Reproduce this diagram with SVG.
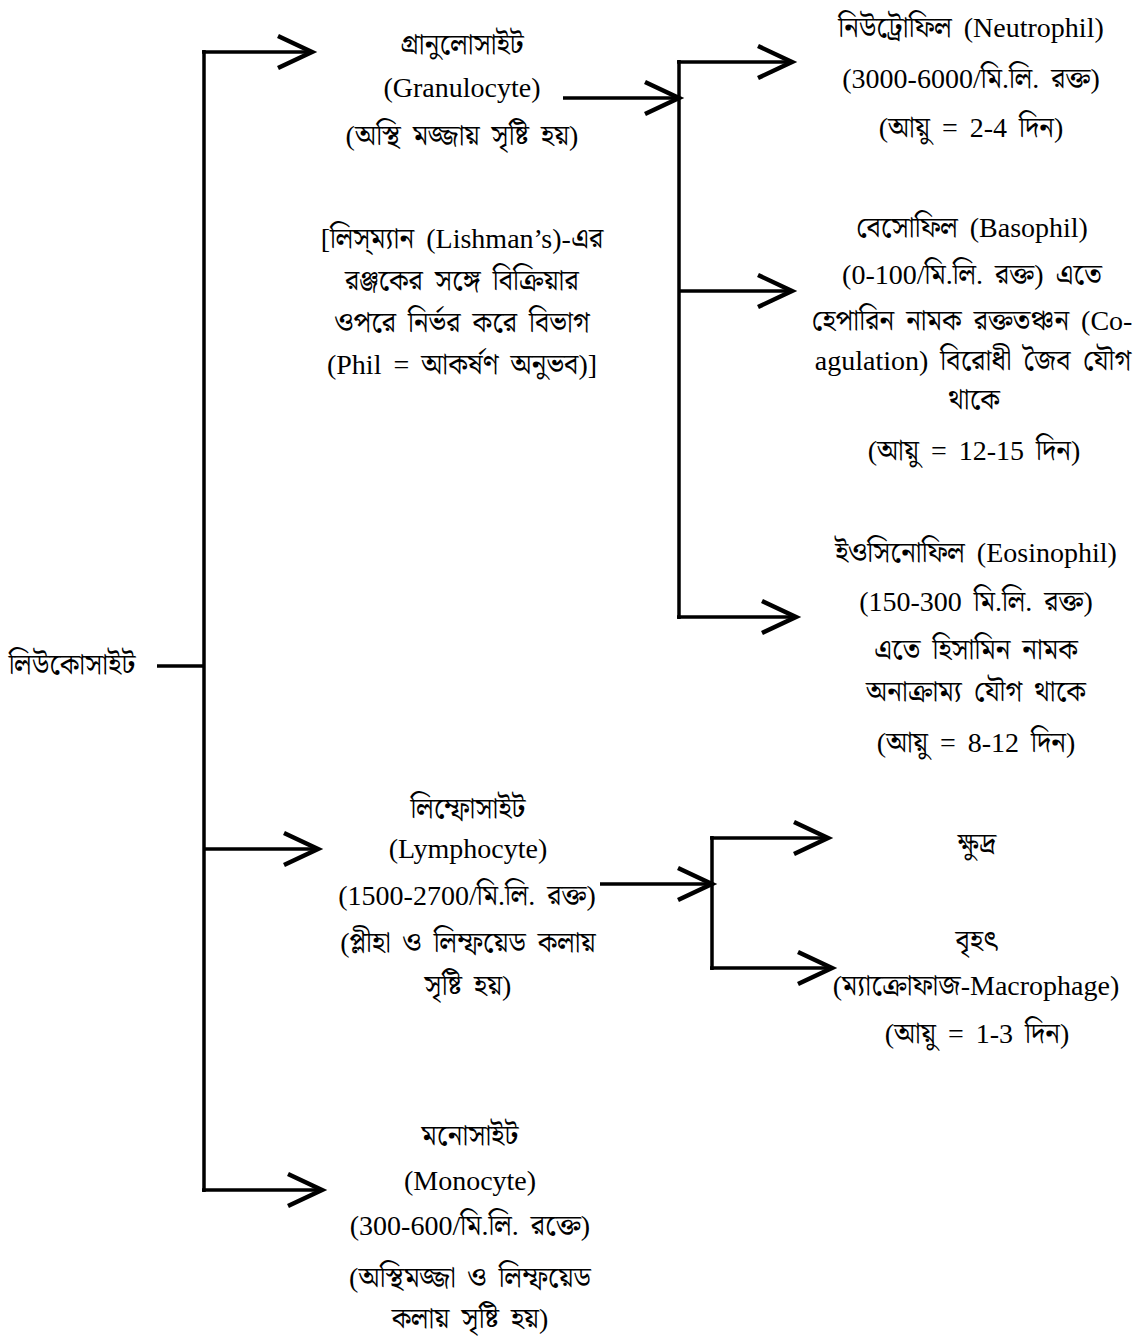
<svg xmlns="http://www.w3.org/2000/svg" width="1142" height="1336" viewBox="0 0 1142 1336">
<style>
text{font-family:"Liberation Serif","Noto Serif Bengali","Noto Sans Bengali","Lohit Bengali",serif;font-size:28px;word-spacing:5px;fill:#000;text-anchor:middle}
.c{stroke:#000;stroke-width:3.5;fill:none}
</style>
<defs>
<marker id="chev" viewBox="-40 -22 50 44" refX="0" refY="0" markerWidth="50" markerHeight="44" markerUnits="userSpaceOnUse" orient="auto">
<path d="M-34,-16 L0,0 L-34,16" fill="none" stroke="#000" stroke-width="4.5"/>
</marker>
</defs>
<rect width="1142" height="1336" fill="#fff"/>
<g id="connectors">
<line class="c" x1="157" y1="666" x2="204" y2="666"/>
<line class="c" x1="204" y1="50" x2="204" y2="1192"/>
<line class="c" x1="202" y1="52" x2="312" y2="52" marker-end="url(#chev)"/>
<line class="c" x1="204" y1="849" x2="318" y2="849" marker-end="url(#chev)"/>
<line class="c" x1="202" y1="1190" x2="322" y2="1190" marker-end="url(#chev)"/>
<line class="c" x1="563" y1="98" x2="679" y2="98" marker-end="url(#chev)"/>
<line class="c" x1="679" y1="60" x2="679" y2="619"/>
<line class="c" x1="677" y1="62" x2="792" y2="62" marker-end="url(#chev)"/>
<line class="c" x1="679" y1="291" x2="792" y2="291" marker-end="url(#chev)"/>
<line class="c" x1="677" y1="617" x2="796" y2="617" marker-end="url(#chev)"/>
<line class="c" x1="600" y1="884" x2="712" y2="884" marker-end="url(#chev)"/>
<line class="c" x1="712" y1="836" x2="712" y2="970"/>
<line class="c" x1="710" y1="838" x2="828" y2="838" marker-end="url(#chev)"/>
<line class="c" x1="710" y1="968" x2="832" y2="968" marker-end="url(#chev)"/>
</g>
<g id="leucocyte">
<text x="72" y="674">লিউকোসাইট</text>
</g>
<g id="granulocyte">
<text x="462" y="54">গ্রানুলোসাইট</text>
<text x="462" y="97">(Granulocyte)</text>
<text x="462" y="145">(অস্থি মজ্জায় সৃষ্টি হয়)</text>
</g>
<g id="lishman">
<text x="462" y="248">[লিস্‌ম্যান (Lishman’s)-এর</text>
<text x="462" y="290">রঞ্জকের সঙ্গে বিক্রিয়ার</text>
<text x="462" y="332">ওপরে নির্ভর করে বিভাগ</text>
<text x="462" y="374">(Phil = আকর্ষণ অনুভব)]</text>
</g>
<g id="neutrophil">
<text x="971" y="37">নিউট্রোফিল (Neutrophil)</text>
<text x="971" y="88">(3000-6000/মি.লি. রক্ত)</text>
<text x="971" y="137">(আয়ু = 2-4 দিন)</text>
</g>
<g id="basophil">
<text x="972" y="237">বেসোফিল (Basophil)</text>
<text x="972" y="284">(0-100/মি.লি. রক্ত) এতে</text>
<text x="972" y="330">হেপারিন নামক রক্ততঞ্চন (Co-</text>
<text x="973" y="370">agulation) বিরোধী জৈব যৌগ</text>
<text x="974" y="409">থাকে</text>
<text x="974" y="460">(আয়ু = 12-15 দিন)</text>
</g>
<g id="eosinophil">
<text x="976" y="562">ইওসিনোফিল (Eosinophil)</text>
<text x="976" y="611">(150-300 মি.লি. রক্ত)</text>
<text x="976" y="659">এতে হিসামিন নামক</text>
<text x="976" y="701">অনাক্রাম্য যৌগ থাকে</text>
<text x="976" y="752">(আয়ু = 8-12 দিন)</text>
</g>
<g id="lymphocyte">
<text x="468" y="818">লিম্ফোসাইট</text>
<text x="468" y="858">(Lymphocyte)</text>
<text x="467" y="905">(1500-2700/মি.লি. রক্ত)</text>
<text x="468" y="952">(প্লীহা ও লিম্ফয়েড কলায়</text>
<text x="468" y="995">সৃষ্টি হয়)</text>
</g>
<g id="small">
<text x="977" y="853">ক্ষুদ্র</text>
</g>
<g id="large">
<text x="977" y="950">বৃহৎ</text>
<text x="976" y="995">(ম্যাক্রোফাজ-Macrophage)</text>
<text x="977" y="1043">(আয়ু = 1-3 দিন)</text>
</g>
<g id="monocyte">
<text x="470" y="1145">মনোসাইট</text>
<text x="470" y="1190">(Monocyte)</text>
<text x="470" y="1235">(300-600/মি.লি. রক্তে)</text>
<text x="470" y="1287">(অস্থিমজ্জা ও লিম্ফয়েড</text>
<text x="470" y="1328">কলায় সৃষ্টি হয়)</text>
</g>
</svg>
